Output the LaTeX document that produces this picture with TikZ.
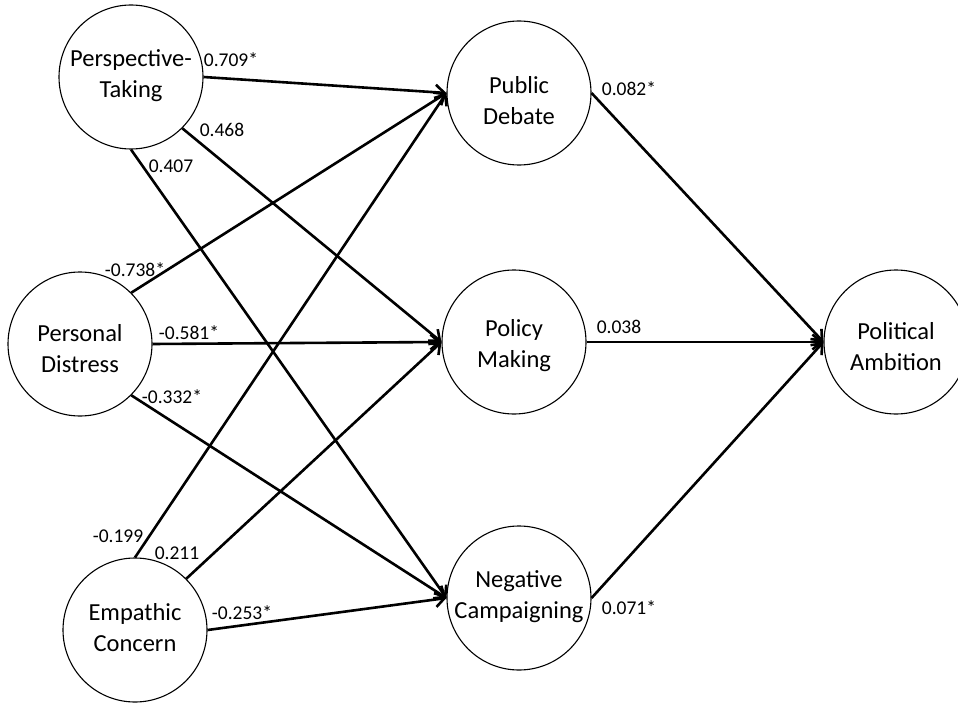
\documentclass[tikz,border=0pt]{standalone}
\usepackage{fontspec}
\setmainfont{Carlito}
\usetikzlibrary{arrows.meta}

\begin{document}
\begin{tikzpicture}[
    x=1pt, y=-1pt,
    v/.style={draw,circle,minimum size=144pt,inner sep=0pt,line width=1.1pt},
    t/.style={inner sep=0pt,align=center,font=\fontsize{24.5}{31}\selectfont},
    w/.style={inner sep=0pt,font=\fontsize{19.5}{22}\selectfont},
    p/.style={->,line width=2.6pt},
    >={Straight Barb[length=9pt,width=15pt]}
  ]
    \clip (0,0) rectangle (958,706);
    \fill[white] (0,0) rectangle (958,706);

    % constructs, text set a little off centre as in the source figure
    \node[v,label={[t,yshift=1pt]center:Perspective-\\Taking}] (pt) at (131,77) {};
    \node[v,label={[t,yshift=-5pt]center:Personal\\Distress}] (pd) at (80,344) {};
    \node[v,label={[t,yshift=2pt]center:Empathic\\Concern}] (ec) at (135,630) {};
    \node[v,label={[t,yshift=-8pt]center:Public\\Debate}] (deb) at (519,93) {};
    \node[v,label={[t,yshift=-4pt]center:Policy\\Making}] (pol) at (514,342) {};
    \node[v,label={[t,yshift=1pt]center:Negative\\Campaigning}] (neg) at (519,598) {};
    \node[v,label={[t,yshift=-5pt]center:Political\\Ambition}] (amb) at (896,342) {};

    \draw[p] (pt.east) -- (deb.west);
    \draw[p] (pt.south east) -- (pol.west);
    \draw[p] (pt.south) -- (neg.west);
    \draw[p] (pd.north east) -- (deb.west);
    \draw[p] (pd.east) -- (pol.west);
    \draw[p] (pd.south east) -- (neg.west);
    \draw[p] (ec.north) -- (deb.west);
    \draw[p] (ec.north east) -- (pol.west);
    \draw[p] (ec.east) -- (neg.west);
    \draw[p] (deb.east) -- (amb.west);
    \draw[p] (pol.east) -- (amb.west);
    \draw[p] (neg.east) -- (amb.west);

    \node[w] (w1) at (231,60) {0.709*};
    \node[w] (w2) at (222,130) {0.468};
    \node[w] (w3) at (171,166) {0.407};
    \node[w] (w4) at (135,270) {-0.738*};
    \node[w] (w5) at (189,333) {-0.581*};
    \node[w] (w6) at (172,397) {-0.332*};
    \node[w] (w7) at (118,536) {-0.199};
    \node[w] (w8) at (177,553) {0.211};
    \node[w] (w9) at (242,613) {-0.253*};
    \node[w] (w10) at (629,89) {0.082*};
    \node[w] (w11) at (619,327) {0.038};
    \node[w] (w12) at (629,608) {0.071*};
  \end{tikzpicture}
\end{document}
